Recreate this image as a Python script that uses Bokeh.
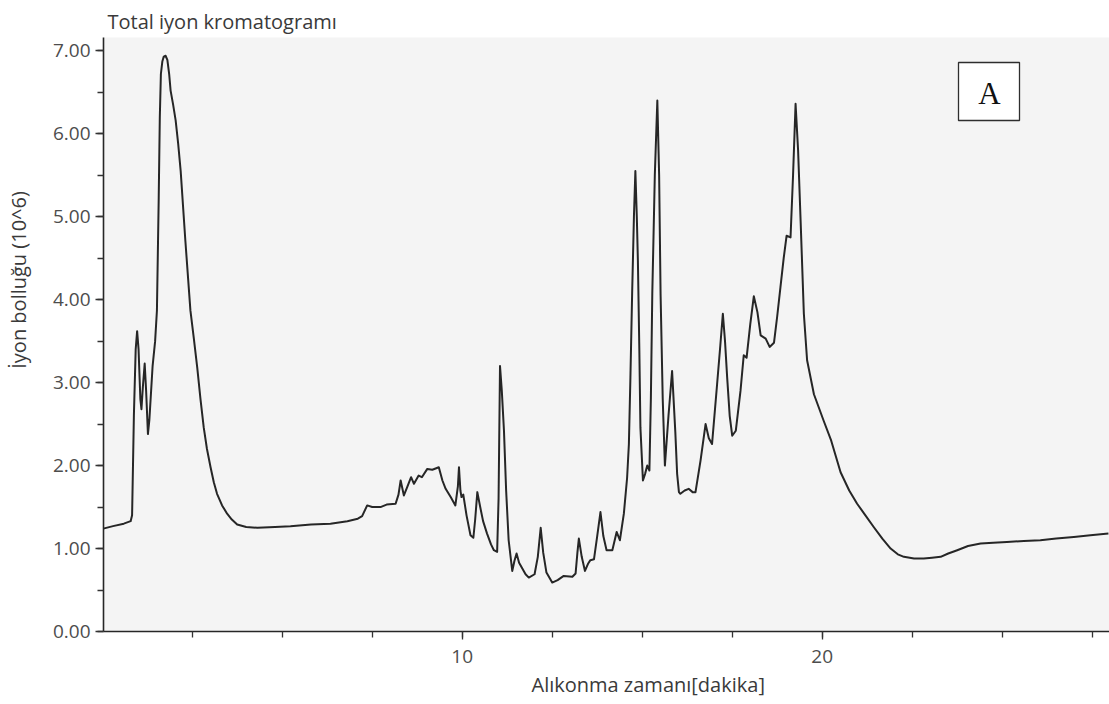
from bokeh.plotting import figure
from bokeh.models import Range1d, SingleIntervalTicker, NumeralTickFormatter, Label, BoxAnnotation, Title
from bokeh.embed import file_html
from bokeh.resources import INLINE

# ---- texts ----
title_text = "Total iyon kromatogramı"
x_label = "Alıkonma zamanı[dakika]"
y_label = "İyon bolluğu (10^6)"
panel_tag = "A"

# ---- data ----
retention_time = [
    0.03, 0.30, 0.60, 0.79, 0.83, 0.88, 0.93, 0.97, 1.01, 1.06, 1.09, 1.13, 1.18, 1.22, 1.27,
    1.31, 1.40, 1.47, 1.52, 1.57, 1.60, 1.63, 1.67, 1.71, 1.76, 1.81, 1.86, 1.90, 1.97, 2.04,
    2.11, 2.18, 2.31,
    2.45, 2.54, 2.64, 2.73, 2.82, 2.91, 3.01, 3.10, 3.19, 3.33, 3.47, 3.60, 3.75, 4.00, 4.31,
    4.80, 5.23, 5.80, 6.34, 6.81, 7.10, 7.22, 7.36, 7.50, 7.73, 7.90, 8.15, 8.23, 8.29, 8.38,
    8.48, 8.58, 8.66, 8.79, 8.88, 9.03, 9.17, 9.35, 9.45, 9.54, 9.68, 9.81, 9.88, 9.91, 9.95,
    9.98, 10.03, 10.12, 10.23, 10.31, 10.36, 10.42, 10.50, 10.58, 10.69, 10.80, 10.88, 10.97, 11.01, 11.05,
    11.10, 11.16, 11.22, 11.29, 11.39, 11.45, 11.51, 11.58, 11.67, 11.76, 11.85, 12.01, 12.10, 12.18, 12.25,
    12.34, 12.50, 12.65, 12.82, 13.06, 13.15, 13.20, 13.24, 13.32, 13.41, 13.50, 13.56, 13.66, 13.75, 13.84,
    13.92, 14.01, 14.17, 14.29, 14.38, 14.49, 14.58, 14.63, 14.67, 14.72, 14.77, 14.81, 14.85, 14.88, 14.92,
    14.95, 15.02, 15.08, 15.14, 15.20, 15.24, 15.28, 15.35, 15.42, 15.47, 15.51, 15.57, 15.63, 15.73, 15.83,
    15.92, 15.97, 16.02, 16.06, 16.18, 16.29, 16.40, 16.48, 16.62, 16.76, 16.85, 16.94, 17.08, 17.17, 17.24,
    17.30, 17.36, 17.43, 17.50, 17.60, 17.73, 17.82, 17.90, 18.00, 18.10, 18.20, 18.29, 18.43, 18.54, 18.66,
    18.75, 18.84, 18.93, 19.01, 19.12, 19.19, 19.26, 19.33, 19.40, 19.49, 19.58, 19.77, 20.04, 20.25, 20.51,
    20.75, 20.97, 21.20, 21.43, 21.67, 21.90, 22.10, 22.27, 22.55, 22.82, 23.05, 23.29, 23.50, 23.75, 24.05,
    24.40, 24.75, 25.13, 25.60, 26.06, 26.50, 26.99, 27.45, 27.95,
]
ion_abundance = [
    1.24, 1.27, 1.30, 1.33, 1.40, 2.60, 3.40, 3.62, 3.40, 2.80, 2.68, 2.95, 3.23, 2.90, 2.38,
    2.55, 3.20, 3.50, 3.87, 5.23, 6.20, 6.72, 6.87, 6.93, 6.94, 6.89, 6.72, 6.52, 6.35, 6.16,
    5.88, 5.55, 4.71,
    3.87, 3.55, 3.18, 2.80, 2.46, 2.20, 1.98, 1.80, 1.66, 1.52, 1.42, 1.35, 1.29, 1.26, 1.25,
    1.26, 1.27, 1.29, 1.30, 1.33, 1.36, 1.39, 1.52, 1.50, 1.50, 1.53, 1.54, 1.65, 1.82, 1.64,
    1.75, 1.86, 1.78, 1.88, 1.86, 1.96, 1.95, 1.98, 1.82, 1.72, 1.62, 1.52, 1.75, 1.98, 1.70,
    1.62, 1.65, 1.40, 1.16, 1.13, 1.35, 1.68, 1.50, 1.33, 1.18, 1.05, 0.98, 0.96, 1.60, 3.20,
    2.90, 2.42, 1.70, 1.10, 0.73, 0.85, 0.94, 0.83, 0.76, 0.69, 0.65, 0.69, 0.90, 1.25, 0.95,
    0.71, 0.59, 0.62, 0.67, 0.66, 0.70, 0.95, 1.12, 0.90, 0.73, 0.82, 0.86, 0.87, 1.15, 1.44,
    1.15, 0.98, 0.98, 1.20, 1.10, 1.42, 1.85, 2.26, 3.02, 4.07, 5.00, 5.55, 5.00, 4.47, 3.40,
    2.46, 1.82, 1.90, 2.00, 1.94, 2.80, 4.07, 5.50, 6.40, 5.50, 4.07, 2.80, 2.00, 2.60, 3.14,
    2.40, 1.90, 1.68, 1.66, 1.70, 1.72, 1.68, 1.68, 2.06, 2.50, 2.33, 2.26, 2.98, 3.45, 3.83,
    3.50, 3.06, 2.60, 2.36, 2.42, 2.90, 3.33, 3.30, 3.70, 4.04, 3.85, 3.57, 3.53, 3.43, 3.48,
    3.80, 4.15, 4.50, 4.77, 4.75, 5.50, 6.36, 5.80, 4.95, 3.83, 3.27, 2.86, 2.54, 2.30, 1.92,
    1.70, 1.54, 1.40, 1.26, 1.12, 1.00, 0.93, 0.90, 0.88, 0.88, 0.89, 0.90, 0.94, 0.98, 1.03,
    1.06, 1.07, 1.08, 1.09, 1.10, 1.12, 1.14, 1.16, 1.18,
]

x_major_interval = 10
x_minor_ticks = 4
y_major_interval = 1
y_minor_ticks = 2

FONT = "Open Sans"
TEXT_COLOR = "#3a3a3a"

p = figure(
    width=1109, height=704,
    output_backend="svg", toolbar_location=None,
    x_range=Range1d(0.036, 27.98), y_range=Range1d(0, 7.16),
    min_border_left=103, min_border_right=0, min_border_top=37, min_border_bottom=73,
    background_fill_color="#f4f4f4", border_fill_color="white",
    outline_line_color=None,
)
p.grid.visible = False

p.line(retention_time, ion_abundance, line_color="#262626", line_width=2.0, line_join="round")

for ax in (p.xaxis[0], p.yaxis[0]):
    ax.axis_line_color = "#262626"
    ax.axis_line_width = 1.6
    ax.major_tick_line_color = "#333333"
    ax.minor_tick_line_color = "#333333"
    ax.major_tick_line_width = 1.3
    ax.minor_tick_line_width = 1.3
    ax.major_tick_in = 0
    ax.minor_tick_in = 0
    ax.major_tick_out = 8
    ax.minor_tick_out = 6
    ax.major_label_text_font = FONT
    ax.major_label_text_font_size = "19px"
    ax.major_label_text_color = "#4d4d4d"

p.xaxis[0].major_label_standoff = 10
p.yaxis[0].major_label_standoff = 5

p.xaxis[0].ticker = SingleIntervalTicker(interval=x_major_interval, num_minor_ticks=x_minor_ticks)
p.yaxis[0].ticker = SingleIntervalTicker(interval=y_major_interval, num_minor_ticks=y_minor_ticks)
p.yaxis[0].formatter = NumeralTickFormatter(format="0.00")

# y-axis label (shifted toward the top like the reference by leading no-break spaces)
p.yaxis[0].axis_label = "\u00a0" * 21 + y_label
p.yaxis[0].axis_label_text_font = FONT
p.yaxis[0].axis_label_text_font_size = "20px"
p.yaxis[0].axis_label_text_font_style = "normal"
p.yaxis[0].axis_label_text_color = TEXT_COLOR
p.yaxis[0].axis_label_standoff = 18

# title (top-left)
p.title.text = title_text
p.title.align = "left"
p.title.offset = 4
p.title.standoff = 6
p.title.text_font = FONT
p.title.text_font_size = "20px"
p.title.text_font_style = "normal"
p.title.text_color = TEXT_COLOR

# x-axis label as a bottom title, positioned like the reference
p.add_layout(Title(text=x_label, align="left", offset=428, vertical_align="top", standoff=10,
                   text_font=FONT, text_font_size="20px", text_font_style="normal",
                   text_color=TEXT_COLOR), "below")

# boxed panel tag "A"
p.add_layout(BoxAnnotation(left=855, right=916, bottom=511, top=569,
                           left_units="screen", right_units="screen",
                           bottom_units="screen", top_units="screen",
                           fill_color="white", fill_alpha=1.0,
                           line_color="#2e2e2e", line_width=1.3, line_alpha=1.0))
p.add_layout(Label(x=886, y=538, x_units="screen", y_units="screen", text=panel_tag,
                   text_font="Liberation Serif", text_font_size="31px",
                   text_color="#111111", text_align="center", text_baseline="alphabetic"))

open("out.html", "w").write(file_html(p, INLINE))
